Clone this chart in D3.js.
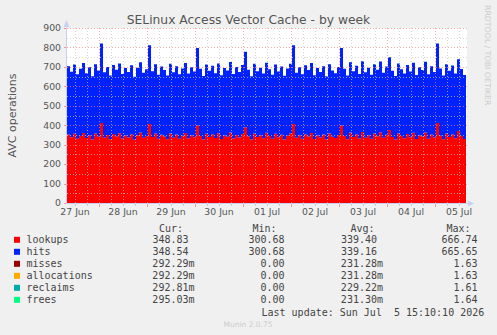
<!DOCTYPE html>
<html>
<head>
<meta charset="utf-8">
<script src="https://cdn.jsdelivr.net/npm/d3@7"></script>
<style>
  body { margin: 0; background: #f0f0f0; }
  svg { display: block; }
  text { white-space: pre; }
</style>
</head>
<body>
<svg id="chart"></svg>
<script>
// samples every 1.5 hours from 27 Jun 08:00
const startTime = new Date(2026, 5, 27, 8, 0);
const endTime = new Date(2026, 6, 5, 16, 0);
const stepHours = 1.5;

const lookups = [352, 338, 356, 331, 345, 360, 334, 349, 326, 357, 341, 411, 336, 350, 328, 355,
  343, 359, 332, 347, 337, 354, 325, 348, 362, 335, 344, 406, 339, 357, 330, 351,
  342, 328, 358, 336, 352, 331, 346, 360, 333, 349, 338, 399, 345, 327, 356, 340,
  353, 334, 359, 329, 347, 341, 363, 332, 350, 337, 355, 389, 343, 326, 358, 339,
  348, 333, 361, 344, 330, 356, 338, 351, 327, 346, 358, 406, 335, 349, 331, 354,
  342, 360, 329, 347, 337, 352, 326, 357, 341, 334, 350, 399, 345, 328, 362, 339,
  353, 332, 365, 336, 348, 330, 357, 343, 364, 335, 351, 375, 340, 327, 359, 344,
  333, 355, 338, 361, 329, 349, 342, 363, 331, 352, 337, 411, 346, 328, 357, 340,
  354, 333, 370, 345, 329, 348.8];

const hits = [351.8, 337.6, 355.7, 330.8, 344.9, 359.6, 333.7, 348.8, 325.6, 356.8, 340.7, 409.9, 335.8, 349.7, 327.8, 354.6,
  342.8, 358.7, 331.7, 346.8, 336.6, 353.8, 324.7, 347.8, 361.6, 334.8, 343.7, 405.1, 338.8, 356.7, 329.6, 350.8,
  341.7, 327.8, 357.6, 335.8, 351.7, 330.8, 345.6, 359.8, 332.7, 348.8, 337.7, 398.2, 344.8, 326.7, 355.8, 339.6,
  352.8, 333.7, 358.8, 328.6, 346.8, 340.7, 362.7, 331.8, 349.6, 336.8, 354.7, 388.3, 342.8, 325.7, 357.8, 338.6,
  347.8, 332.7, 360.8, 343.6, 329.8, 355.7, 337.8, 350.6, 326.8, 345.7, 357.8, 405.2, 334.8, 348.7, 330.6, 353.8,
  341.7, 359.8, 328.6, 346.8, 336.7, 351.8, 325.6, 356.8, 340.7, 333.8, 349.6, 398.1, 344.8, 327.7, 361.8, 338.6,
  352.8, 331.7, 364.6, 335.8, 347.7, 329.8, 356.6, 342.8, 363.7, 334.8, 350.6, 374.2, 339.8, 326.7, 358.8, 343.6,
  332.8, 354.7, 337.8, 360.6, 328.8, 348.7, 341.6, 362.8, 330.7, 351.8, 336.6, 409.8, 345.7, 327.8, 356.6, 339.8,
  353.7, 332.8, 369.1, 344.7, 328.8, 348.5];

// legend
const seriesNames = ['lookups', 'hits', 'misses', 'allocations', 'reclaims', 'frees'];
const seriesColors = ['#ff0000', '#0022ff', '#990000', '#ffaa00', '#00aaaa', '#00ff7f'];
const curVals = [348.83, 348.54, 0.29229, 0.29229, 0.29281, 0.29503];
const minVals = [300.68, 300.68, 0, 0, 0, 0];
const avgVals = [339.40, 339.16, 0.23128, 0.23128, 0.22922, 0.23130];
const maxVals = [666.74, 665.65, 1.63, 1.63, 1.61, 1.64];

const yTicks = [0, 100, 200, 300, 400, 500, 600, 700, 800, 900];

const W = 497, H = 335;
const plot = { left: 67, right: 467, top: 28, bottom: 203 };

const svg = d3.select('#chart')
  .attr('width', W)
  .attr('height', H)
  .style('font-family', 'DejaVu Sans');

svg.append('rect').attr('width', W).attr('height', H).attr('fill', '#f0f0f0');
svg.append('rect')
  .attr('x', plot.left).attr('y', plot.top)
  .attr('width', plot.right - plot.left).attr('height', plot.bottom - plot.top)
  .attr('fill', '#ffffff');

const x = d3.scaleTime().domain([startTime, endTime]).range([plot.left, plot.right]);
const y = d3.scaleLinear().domain([0, 900]).range([plot.bottom, plot.top]);

const rows = lookups.map((v, i) => ({
  time: new Date(startTime.getTime() + i * stepHours * 3600e3),
  lookups: v,
  hits: hits[i]
}));

const stack = d3.stack().keys(['lookups', 'hits']);
const layers = stack(rows);

const area = d3.area()
  .curve(d3.curveStepAfter)
  .x(d => x(d.data.time))
  .y0(d => y(d[0]))
  .y1(d => y(d[1]));

svg.append('g')
  .selectAll('path')
  .data(layers)
  .join('path')
  .attr('d', area)
  .attr('fill', (d, i) => seriesColors[i]);

// grid
const grid = svg.append('g').attr('stroke-dasharray', '1,2').attr('stroke-width', 1);
const minorX = d3.timeHour.every(6).range(startTime, endTime).filter(t => t.getHours() !== 0);
const majorX = d3.timeDay.range(startTime, endTime);
const minorY = d3.range(50, 901, 100);

grid.selectAll('.gx')
  .data(minorX)
  .join('line')
  .attr('x1', d => Math.round(x(d)) + 0.5).attr('x2', d => Math.round(x(d)) + 0.5)
  .attr('y1', plot.top).attr('y2', plot.bottom)
  .attr('stroke', 'rgba(200,200,200,0.7)');

grid.selectAll('.gy')
  .data(minorY)
  .join('line')
  .attr('y1', d => Math.round(y(d)) + 0.5).attr('y2', d => Math.round(y(d)) + 0.5)
  .attr('x1', plot.left).attr('x2', plot.right)
  .attr('stroke', 'rgba(200,200,200,0.7)');

grid.selectAll('.mx')
  .data(majorX)
  .join('line')
  .attr('x1', d => Math.round(x(d)) + 0.5).attr('x2', d => Math.round(x(d)) + 0.5)
  .attr('y1', plot.top).attr('y2', plot.bottom)
  .attr('stroke', 'rgba(255,130,130,0.7)');

grid.selectAll('.my')
  .data(yTicks.slice(1))
  .join('line')
  .attr('y1', d => Math.round(y(d)) + 0.5).attr('y2', d => Math.round(y(d)) + 0.5)
  .attr('x1', plot.left).attr('x2', plot.right)
  .attr('stroke', 'rgba(255,130,130,0.7)');

// tick marks
const ticks = svg.append('g');
ticks.selectAll('.tx')
  .data(minorX)
  .join('line')
  .attr('x1', d => Math.round(x(d)) + 0.5).attr('x2', d => Math.round(x(d)) + 0.5)
  .attr('y1', plot.bottom + 1).attr('y2', plot.bottom + 3)
  .attr('stroke', '#cccccc');
ticks.selectAll('.tmx')
  .data(majorX)
  .join('line')
  .attr('x1', d => Math.round(x(d)) + 0.5).attr('x2', d => Math.round(x(d)) + 0.5)
  .attr('y1', plot.bottom + 1).attr('y2', plot.bottom + 4)
  .attr('stroke', '#ff9090');
ticks.selectAll('.ty')
  .data(yTicks)
  .join('line')
  .attr('y1', d => Math.round(y(d)) + 0.5).attr('y2', d => Math.round(y(d)) + 0.5)
  .attr('x1', plot.left - 3).attr('x2', plot.left)
  .attr('stroke', '#ff9090');

// axes
const axisColor = '#c8d0f4';
svg.append('line')
  .attr('x1', plot.left - 0.5).attr('x2', plot.left - 0.5)
  .attr('y1', plot.bottom + 1).attr('y2', plot.top - 4)
  .attr('stroke', axisColor);
svg.append('line')
  .attr('x1', plot.left - 1).attr('x2', plot.right + 2)
  .attr('y1', plot.bottom + 0.5).attr('y2', plot.bottom + 0.5)
  .attr('stroke', axisColor);
svg.append('path')
  .attr('d', `M${plot.left - 3.5},${plot.top - 1}L${plot.left - 0.5},${plot.top - 8}L${plot.left + 2.5},${plot.top - 1}Z`)
  .attr('fill', axisColor);
svg.append('path')
  .attr('d', `M${plot.right + 1},${plot.bottom - 2.5}L${plot.right + 7},${plot.bottom + 0.5}L${plot.right + 1},${plot.bottom + 3.5}Z`)
  .attr('fill', axisColor);

// axis labels
svg.append('g')
  .selectAll('text')
  .data(yTicks)
  .join('text')
  .attr('x', plot.left - 6)
  .attr('y', d => y(d) + 3.3)
  .attr('text-anchor', 'end')
  .attr('font-size', 9.3)
  .attr('fill', '#555')
  .text(d => d);

// day labels sit at noon
const fmtDay = d3.timeFormat('%d %b');
const dayLabels = d3.timeDay.range(d3.timeDay.floor(startTime), endTime)
  .map(d => d3.timeHour.offset(d, 12))
  .filter(d => d > startTime && d < endTime);
svg.append('g')
  .selectAll('text')
  .data(dayLabels)
  .join('text')
  .attr('x', d => x(d))
  .attr('y', 215)
  .attr('text-anchor', 'middle')
  .attr('font-size', 9.3)
  .attr('fill', '#555')
  .text(d => fmtDay(d));

// title
svg.append('text')
  .attr('x', 248.5).attr('y', 23.5)
  .attr('text-anchor', 'middle')
  .attr('font-size', 12.3)
  .attr('fill', '#555')
  .text('SELinux Access Vector Cache - by week');

svg.append('text')
  .attr('transform', `translate(15.5,${(plot.top + plot.bottom) / 2}) rotate(-90)`)
  .attr('text-anchor', 'middle')
  .attr('font-size', 11)
  .attr('fill', '#555')
  .text('AVC operations');

svg.append('text')
  .attr('transform', 'translate(484.5,5) rotate(90)')
  .attr('font-size', 7.8)
  .attr('fill', '#cccccc')
  .text('RRDTOOL / TOBI OETIKER');

// legend
const mono = 'DejaVu Sans Mono';
const charW = 6.02;
const fmtNum = v => v === 0 ? '0.00' : (v < 1 ? (v * 1000).toFixed(2) + 'm' : v.toFixed(2));
const hasUnit = v => v > 0 && v < 1;

const legend = svg.append('g')
  .style('font-family', mono)
  .attr('font-size', 10)
  .attr('fill', '#444');

const headers = [['Cur:', 159], ['Min:', 252.5], ['Avg:', 350.5], ['Max:', 446.5]];
legend.selectAll('.hdr')
  .data(headers)
  .join('text')
  .attr('x', d => d[1]).attr('y', 231.5)
  .text(d => d[0]);

const legendRows = legend.selectAll('.row')
  .data(seriesNames)
  .join('g')
  .attr('transform', (d, i) => `translate(0,${243.3 + i * 12})`);

legendRows.append('rect')
  .attr('x', 14).attr('y', -6.5)
  .attr('width', 6).attr('height', 6)
  .attr('fill', (d, i) => seriesColors[i]);

legendRows.append('text').attr('x', 26.5).text(d => d);

// numbers right-aligned at each column's end, unit letter hangs after
const cols = [[curVals, 188.5], [minVals, 284.5], [avgVals, 377], [maxVals, 477.5]];
cols.forEach(([vals, numEnd]) => {
  legendRows.append('text')
    .attr('x', (d, i) => numEnd + (hasUnit(vals[i]) ? charW : 0))
    .attr('text-anchor', 'end')
    .text((d, i) => fmtNum(vals[i]));
});

legend.append('text')
  .attr('x', 261.5).attr('y', 315.8)
  .text('Last update: Sun Jul  5 15:10:10 2026');

svg.append('text')
  .attr('x', 248).attr('y', 327)
  .attr('text-anchor', 'middle')
  .attr('font-size', 7.5)
  .attr('fill', '#cccccc')
  .text('Munin 2.0.75');
</script>
</body>
</html>
